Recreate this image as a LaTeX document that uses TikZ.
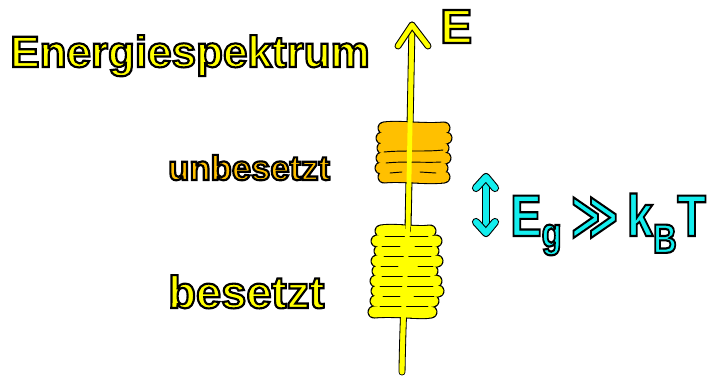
\documentclass[tikz,border=0pt]{standalone}
\usepackage{fontspec}
\setmainfont{Liberation Sans}
\newfontfamily\symfont{DejaVu Sans}
\definecolor{hy}{HTML}{FFFF00}
\definecolor{ho}{HTML}{FFC000}
\definecolor{hc}{HTML}{14EEEE}
% outlined text: fill with the current colour, stroke in black
\newcommand\outltext[2][1.6]{\special{pdf:literal 0 0 0 RG 2 Tr #1 w}#2\special{pdf:literal 0 Tr}}
\newcommand\hstroke[4]{%
  \draw[line width=#3, black, line cap=round, line join=round] #4;
  \draw[line width=#2, #1, line cap=round, line join=round] #4;}
\begin{document}
\begin{tikzpicture}[x=0.75pt,y=-0.75pt,
  lbl/.style={inner sep=0pt},
  bandout/.style={line width=9.8pt, black, line cap=round, line join=round},
  bandin/.style={line width=8.2pt, line cap=round, line join=round},
  gapline/.style={line width=0.7pt, black, line cap=round}]
\useasboundingbox (0,0) rectangle (712,379);
\fill[white] (0,0) rectangle (712,379);
% coordinates of the energy axis
\coordinate (axbot) at (402,372);
\coordinate (axmid) at (408,230);
\coordinate (axtop) at (412,25);
\coordinate (tipl) at (398,46);
\coordinate (tipr) at (428,46);
% axis outline below the bands
\hstroke{hy}{3.6pt}{5.2pt}{(axbot) .. controls (403,300) and (409,200) .. (axmid) -- (axtop)}
% orange band (unbesetzt): outline of all strokes, then fill
\foreach \yy/\xl/\xr in {128/384/444, 138/382/446, 148/383/443, 158/382/445, 168/381/442, 177/384/444}{
  \draw[bandout] (\xl,\yy) .. controls (400,\yy-2) and (425,\yy+2) .. (\xr,\yy);
}
\foreach \yy/\xl/\xr in {128/384/444, 138/382/446, 148/383/443, 158/382/445, 168/381/442, 177/384/444}{
  \draw[bandin, ho] (\xl,\yy) .. controls (400,\yy-2) and (425,\yy+2) .. (\xr,\yy);
}
\draw[gapline] (384,152) .. controls (405,150) and (425,152) .. (443,150);
\draw[gapline] (386,163) .. controls (405,161) and (425,163) .. (441,162);
\draw[gapline] (390,173) -- (402,172);
\draw[gapline] (420,172) -- (436,173);
% yellow band (besetzt)
\foreach \yy/\xl/\xr in {231/381/430, 241/377/436, 251/380/433, 261/377/437, 271/378/432, 281/376/436, 291/377/438, 301/376/433, 312/374/431}{
  \draw[bandout] (\xl,\yy) .. controls (395,\yy-2) and (420,\yy+2) .. (\xr,\yy);
}
\foreach \yy/\xl/\xr in {231/381/430, 241/377/436, 251/380/433, 261/377/437, 271/378/432, 281/376/436, 291/377/438, 301/376/433, 312/374/431}{
  \draw[bandin, hy] (\xl,\yy) .. controls (395,\yy-2) and (420,\yy+2) .. (\xr,\yy);
}
\foreach \yy/\xa/\xb in {236/385/428, 246/382/400, 246/415/432, 256/384/431, 266/381/398, 266/418/433, 276/382/430, 286/380/433, 296/383/400, 296/414/434, 306/380/428}{
  \draw[gapline] (\xa,\yy) -- (\xb,\yy);
}
% axis on top
\hstroke{hy}{3.6pt}{5.0pt}{(axmid) -- (408,215)}
\draw[line width=3.6pt, hy, line cap=round, line join=round]
  (axbot) .. controls (403,300) and (409,200) .. (axmid) -- (axtop);
\hstroke{hy}{3.6pt}{5.2pt}{(tipl) -- (axtop) -- (tipr)}
% labels
\node[lbl, anchor=base west, font=\bfseries\fontsize{33}{36}\selectfont, text=hy] (title) at (10,67) {\outltext{Energiespektrum}};
\node[lbl, anchor=base west, font=\bfseries\fontsize{36}{40}\selectfont, text=hy] (E) at (440,43) {\outltext{E}};
\node[lbl, anchor=base west, font=\bfseries\fontsize{26}{30}\selectfont, text=ho] (unb) at (168,180) {\outltext{unbesetzt}};
\node[lbl, anchor=base west, font=\bfseries\fontsize{34}{38}\selectfont, text=hy] (bes) at (168,308) {\outltext{besetzt}};
% gap
\coordinate (gt) at (486,177);
\coordinate (gb) at (486,233);
\hstroke{hc}{4.5pt}{6.1pt}{(gt) -- (gb)}
\hstroke{hc}{4.5pt}{6.1pt}{(476,188) -- (gt) -- (495,188)}
\hstroke{hc}{4.5pt}{6.1pt}{(476,222) -- (gb) -- (495,222)}
\node[lbl, anchor=base west, font=\bfseries\fontsize{44}{48}\selectfont, text=hc] (gap) at (510,236) {\scalebox{0.8}[1]{\outltext{E\textsubscript{g}\,{\symfont ≫}\,k\textsubscript{B}T}}};
\end{tikzpicture}
\end{document}
